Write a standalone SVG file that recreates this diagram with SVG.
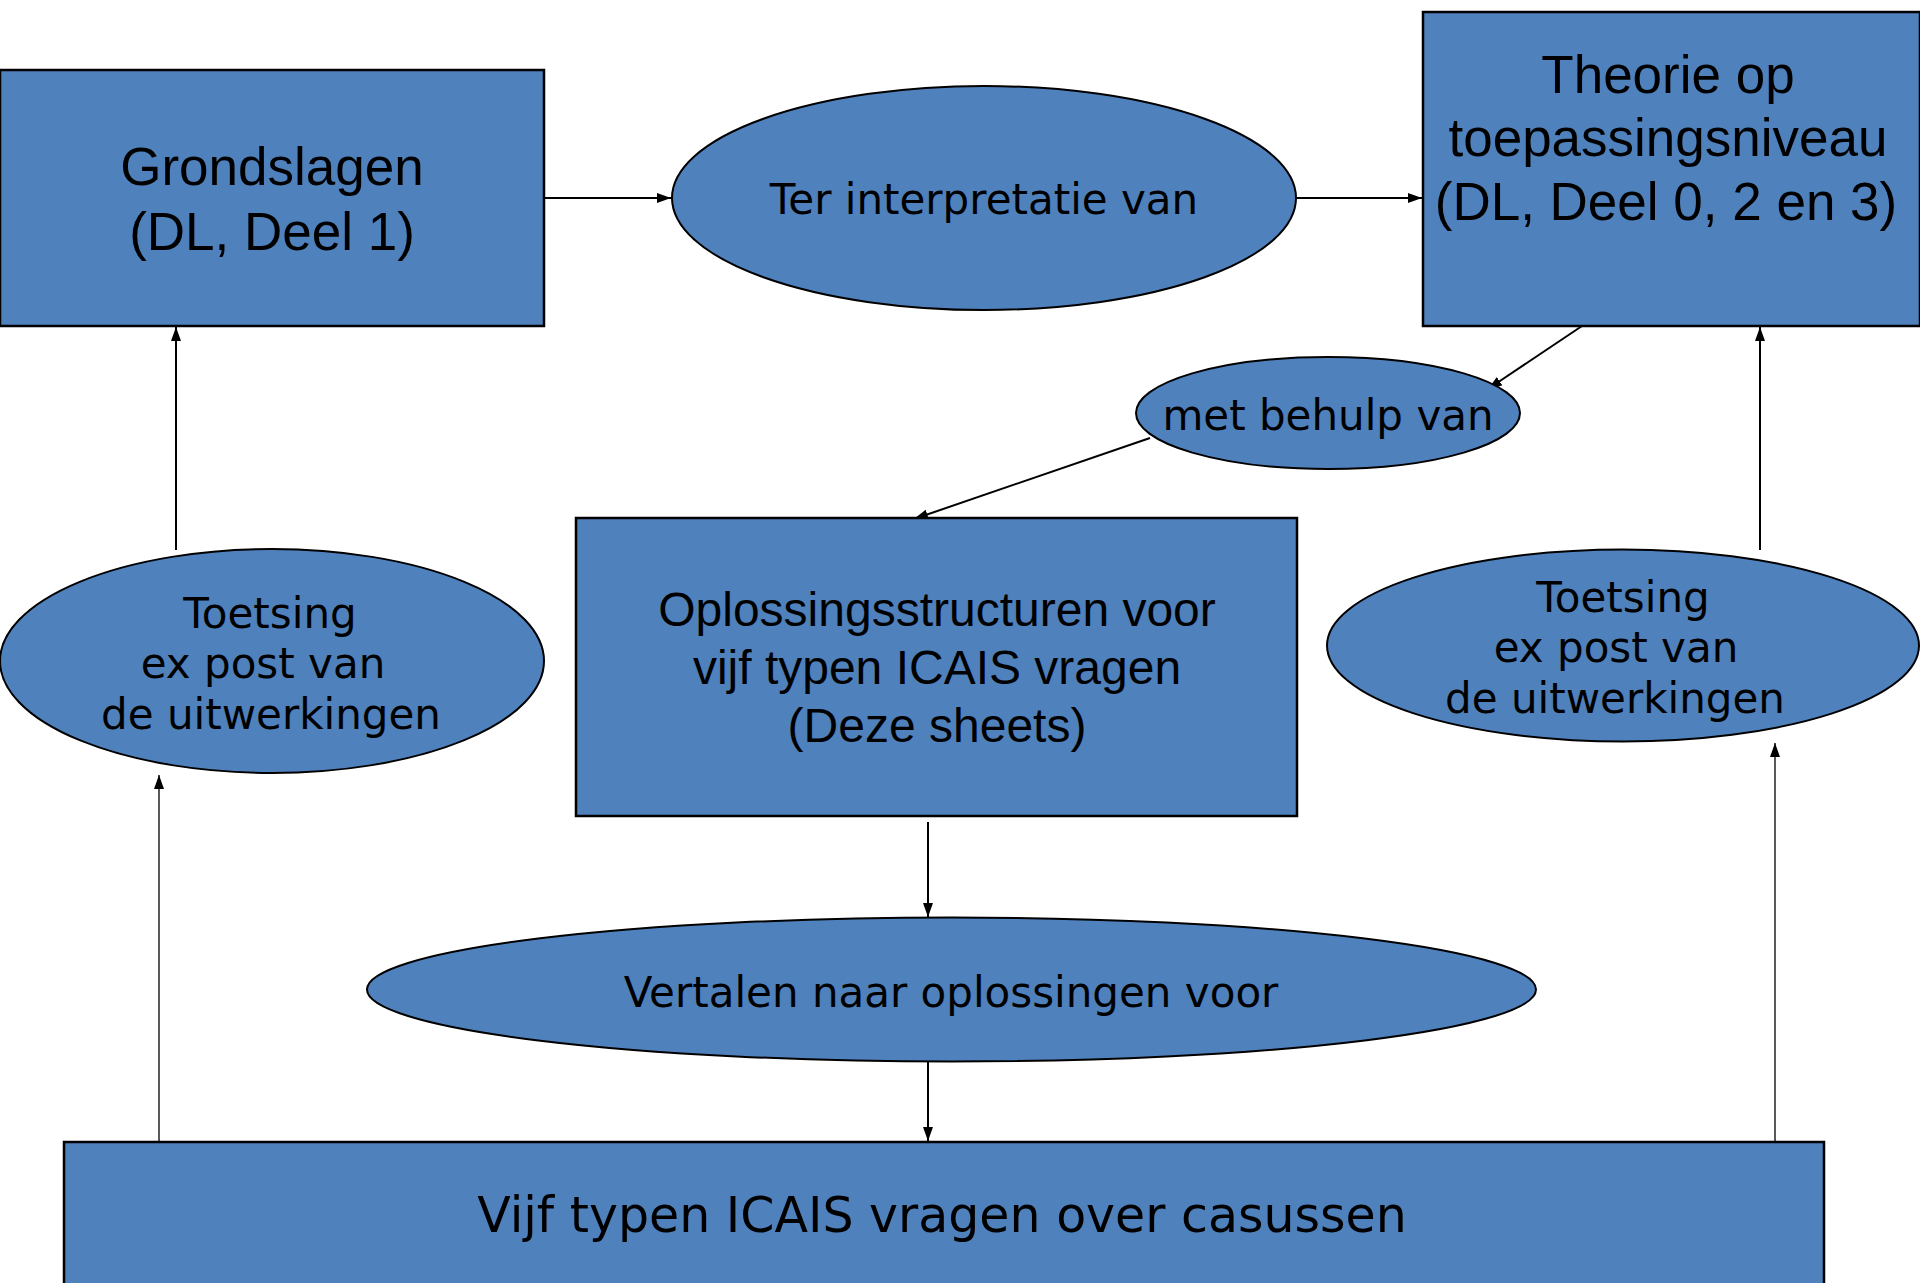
<svg xmlns="http://www.w3.org/2000/svg" width="1920" height="1283" viewBox="0 0 1920 1283">
<style>
.box{fill:#4F81BD;stroke:#000;stroke-width:2.5}
.ell{fill:#4F81BD;stroke:#000;stroke-width:2}
.ta{font-family:"Liberation Sans",Arial,sans-serif;fill:#000;text-anchor:middle}
.tv{font-family:"DejaVu Sans",Verdana,sans-serif;fill:#000;text-anchor:middle}
.c{stroke:#000;stroke-width:2;fill:none;marker-end:url(#ah)}
.c1{stroke:#000;stroke-width:1.3;fill:none;marker-end:url(#ah)}
</style>
<defs>
<marker id="ah" markerUnits="userSpaceOnUse" markerWidth="16" markerHeight="12" refX="14" refY="5" orient="auto">
<path d="M0,0 L14,5 L0,10 z" fill="#000"/>
</marker>
</defs>
<rect width="1920" height="1283" fill="#fff"/>
<g id="connectors">
<line class="c" x1="544" y1="198" x2="671" y2="198"/>
<line class="c" x1="1296" y1="198" x2="1422" y2="198"/>
<line class="c" x1="1582" y1="326" x2="1488" y2="389"/>
<line class="c" x1="1150" y1="438" x2="914" y2="519"/>
<line class="c" x1="176" y1="550" x2="176" y2="327"/>
<line class="c" x1="1760" y1="550" x2="1760" y2="327"/>
<line class="c" x1="928" y1="822" x2="928" y2="917"/>
<line class="c" x1="928" y1="1062" x2="928" y2="1141"/>
<line class="c1" x1="159" y1="1142" x2="159" y2="775"/>
<line class="c1" x1="1775" y1="1142" x2="1775" y2="743"/>
</g>
<g id="grondslagen">
<rect class="box" x="0" y="70" width="544" height="256"/>
<text class="ta" font-size="53" x="272" y="185">Grondslagen</text>
<text class="ta" font-size="53" x="272" y="250">(DL, Deel 1)</text>
</g>
<g id="ter-interpretatie">
<ellipse class="ell" cx="984" cy="198" rx="312" ry="112"/>
<text class="tv" font-size="42" x="984" y="214">Ter interpretatie van</text>
</g>
<g id="theorie">
<rect class="box" x="1423" y="12" width="497" height="314"/>
<text class="ta" font-size="53" x="1668" y="93">Theorie op</text>
<text class="ta" font-size="53" x="1668" y="156">toepassingsniveau</text>
<text class="ta" font-size="53" x="1666" y="220">(DL, Deel 0, 2 en 3)</text>
</g>
<g id="met-behulp-van">
<ellipse class="ell" cx="1328" cy="413" rx="192" ry="56"/>
<text class="tv" font-size="42" x="1328" y="430">met behulp van</text>
</g>
<g id="oplossingsstructuren">
<rect class="box" x="576" y="518" width="721" height="298"/>
<text class="ta" font-size="48" x="937" y="626">Oplossingsstructuren voor</text>
<text class="ta" font-size="48" x="937" y="684">vijf typen ICAIS vragen</text>
<text class="ta" font-size="48" x="937" y="742">(Deze sheets)</text>
</g>
<g id="toetsing-links">
<ellipse class="ell" cx="272" cy="661" rx="272" ry="112"/>
<text class="tv" font-size="42" x="270" y="628">Toetsing</text>
<text class="tv" font-size="42" x="263" y="678">ex post van</text>
<text class="tv" font-size="42" x="271" y="729">de uitwerkingen</text>
</g>
<g id="toetsing-rechts">
<ellipse class="ell" cx="1623" cy="645.5" rx="296" ry="96"/>
<text class="tv" font-size="42" x="1623" y="612">Toetsing</text>
<text class="tv" font-size="42" x="1616" y="662">ex post van</text>
<text class="tv" font-size="42" x="1615" y="713">de uitwerkingen</text>
</g>
<g id="vertalen">
<ellipse class="ell" cx="951.5" cy="989.5" rx="584.5" ry="72"/>
<text class="tv" font-size="42" x="951" y="1007">Vertalen naar oplossingen voor</text>
</g>
<g id="vijf-typen">
<rect class="box" x="64" y="1142" width="1760" height="160"/>
<text class="tv" font-size="49" x="942" y="1232">Vijf typen ICAIS vragen over casussen</text>
</g>
</svg>
